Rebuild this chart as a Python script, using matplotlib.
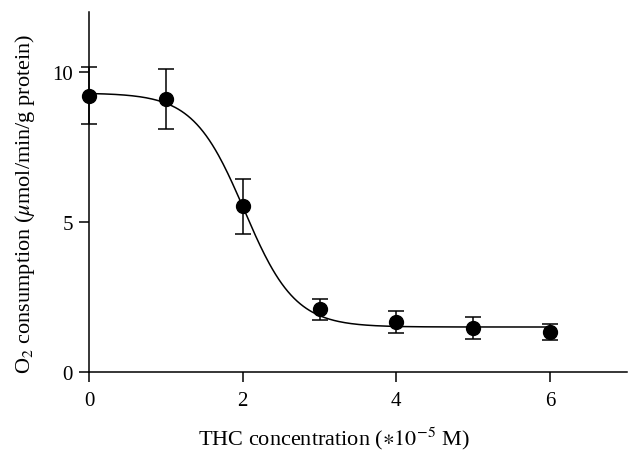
import matplotlib
matplotlib.use("Agg")
import matplotlib.pyplot as plt
import numpy as np

# THC concentration (*10^-5 M) vs O2 consumption
conc = [0, 1, 2, 3, 4, 5, 6]
o2 = [9.2, 9.1, 5.52, 2.1, 1.66, 1.46, 1.34]
err = [0.95, 1.0, 0.93, 0.35, 0.36, 0.36, 0.27]

# sigmoid fit parameters
fit_top = 9.3
fit_bottom = 1.5
fit_mid = 2.02
fit_slope = 0.33

plt.rcParams['font.family'] = ['Liberation Serif', 'DejaVu Serif']
plt.rcParams['mathtext.fontset'] = 'stix'

fig = plt.figure(figsize=(6.41, 4.56), dpi=100)
ax = fig.add_axes([0.1388, 0.182, 0.8392, 0.7895])

xs = np.linspace(0, 6, 300)
ys = fit_bottom + (fit_top - fit_bottom) / (1 + np.exp((xs - fit_mid) / fit_slope))
ax.plot(xs, ys, color='black', lw=1.1, clip_on=False)

ax.errorbar(conc, o2, yerr=err, fmt='o', color='black', ms=10, elinewidth=1.1,
            capsize=5.5, capthick=1.1, clip_on=False, zorder=3)

ax.set_xlim(0, 7)
ax.set_ylim(0, 12)
ax.set_xticks([0, 2, 4, 6])
ax.set_yticks([0, 5, 10])
ax.spines['top'].set_visible(False)
ax.spines['right'].set_visible(False)
ax.spines['left'].set_linewidth(1.1)
ax.spines['bottom'].set_linewidth(1.1)
ax.tick_params(direction='out', length=7.5, width=1.1, labelsize=15)
ax.tick_params(axis='x', pad=6)
ax.tick_params(axis='y', pad=4)

ax.set_xlabel(r'THC concentration ($\ast 10^{-5}$ M)', fontsize=16)
ax.set_ylabel(r'O$_2$ consumption ($\mu$mol/min/g protein)', fontsize=16)
ax.xaxis.set_label_coords(0.455, -0.145)
ax.yaxis.set_label_coords(-0.097, 0.471)

fig.savefig('out.png', dpi=100)
